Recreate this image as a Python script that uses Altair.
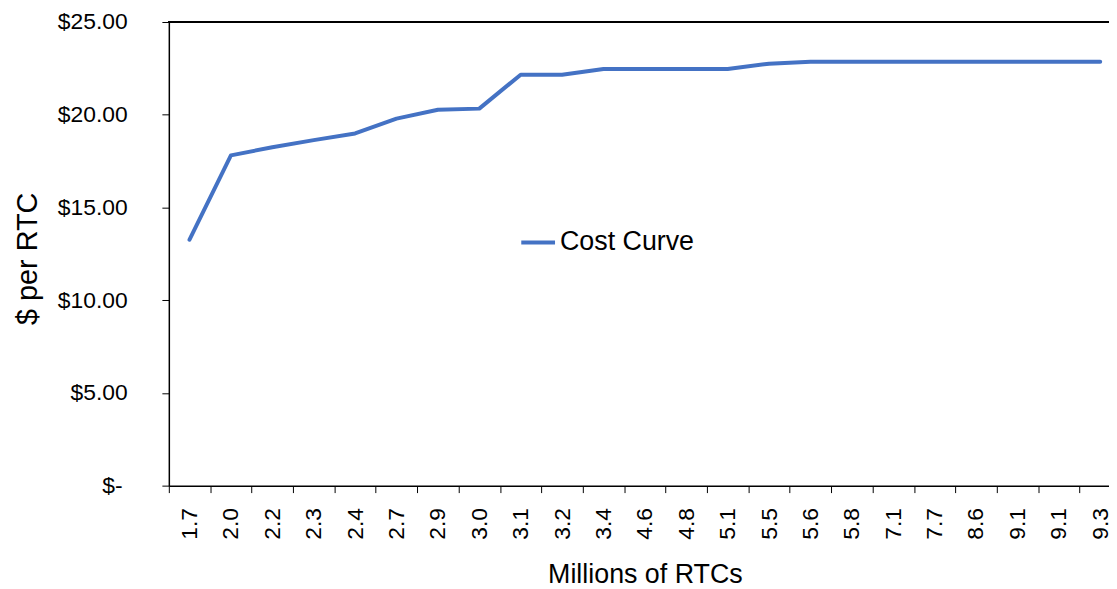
import json
import altair as alt
import pandas as pd

# ---- data ----
x_labels = ["1.7", "2.0", "2.2", "2.3", "2.4", "2.7", "2.9", "3.0", "3.1", "3.2", "3.4",
            "4.6", "4.8", "5.1", "5.5", "5.6", "5.8", "7.1", "7.7", "8.6", "9.1", "9.1", "9.3"]
cost_per_rtc = [13.26, 17.81, 18.25, 18.63, 18.99, 19.79, 20.27, 20.33, 22.16, 22.16, 22.47,
                22.47, 22.47, 22.47, 22.75, 22.86, 22.86, 22.86, 22.86, 22.86, 22.86, 22.86, 22.86]
series_name = "Cost Curve"
y_ticks = [0, 5, 10, 15, 20, 25]

df = pd.DataFrame({
    "idx": list(range(len(x_labels))),
    "cost": cost_per_rtc,
    "series": [series_name] * len(x_labels),
})

FONT = "Liberation Sans"
label_expr = json.dumps(x_labels) + "[datum.value]"
FULL_W = 959   # full category axis length (the chart runs past the right edge)
VIEW_W = 947   # visible part of the plot area

line = alt.Chart(df).mark_line(strokeWidth=4, strokeCap="round", strokeJoin="round").encode(
    x=alt.X("idx:O",
            scale=alt.Scale(type="band", paddingInner=0, paddingOuter=0, range=[0, FULL_W]),
            axis=alt.Axis(title="Millions of RTCs", labelExpr=label_expr, labelAngle=270,
                          labelAlign="right", labelBaseline="middle", labelFontSize=23,
                          labelPadding=15, tickBand="extent", tickSize=7, tickColor="black",
                          domainColor="black", domainWidth=1.5, titleFontSize=27,
                          titleFontWeight="normal", titleX=FULL_W / 2, titleY=90,
                          titleBaseline="middle", titleAlign="center")),
    y=alt.Y("cost:Q",
            scale=alt.Scale(domain=[0, 25], nice=False),
            axis=alt.Axis(title="$ per RTC", values=y_ticks, grid=False,
                          labelExpr="datum.value == 0 ? '$-' : '$' + format(datum.value, '.2f')",
                          labelFontSize=23,
                          labelPadding={"condition": {"test": "datum.value == 0", "value": 40}, "value": 35},
                          tickSize=7, tickColor="black", domainColor="black", domainWidth=1.5,
                          titleFontSize=29, titleFontWeight="normal", titleAngle=270,
                          titleX=-142, titleY=238, titleAlign="center", titleBaseline="middle")),
    color=alt.Color("series:N",
                    scale=alt.Scale(domain=[series_name], range=["#4472C4"]),
                    legend=alt.Legend(title=None, orient="none", legendX=353, legendY=203,
                                      symbolType="stroke", symbolSize=1156, symbolStrokeWidth=4,
                                      labelFontSize=27, labelOffset=3, padding=0)),
)

top_border = alt.Chart(df).mark_rule(color="black", strokeWidth=1.5).encode(
    x=alt.value(0), x2=alt.value(FULL_W), y=alt.value(0)
)

chart = alt.layer(top_border, line).properties(
    width=VIEW_W, height=467,
    autosize=alt.AutoSizeParams(type="none"),
    padding={"left": 162, "top": 12, "right": 0, "bottom": 102},
).configure(font=FONT).configure_view(stroke=None).configure_axis(
    labelColor="black", titleColor="black", labelFont=FONT, titleFont=FONT
).configure_legend(labelColor="black", labelFont=FONT)

chart.save("out.html", embed_options={"renderer": "svg", "actions": False})
